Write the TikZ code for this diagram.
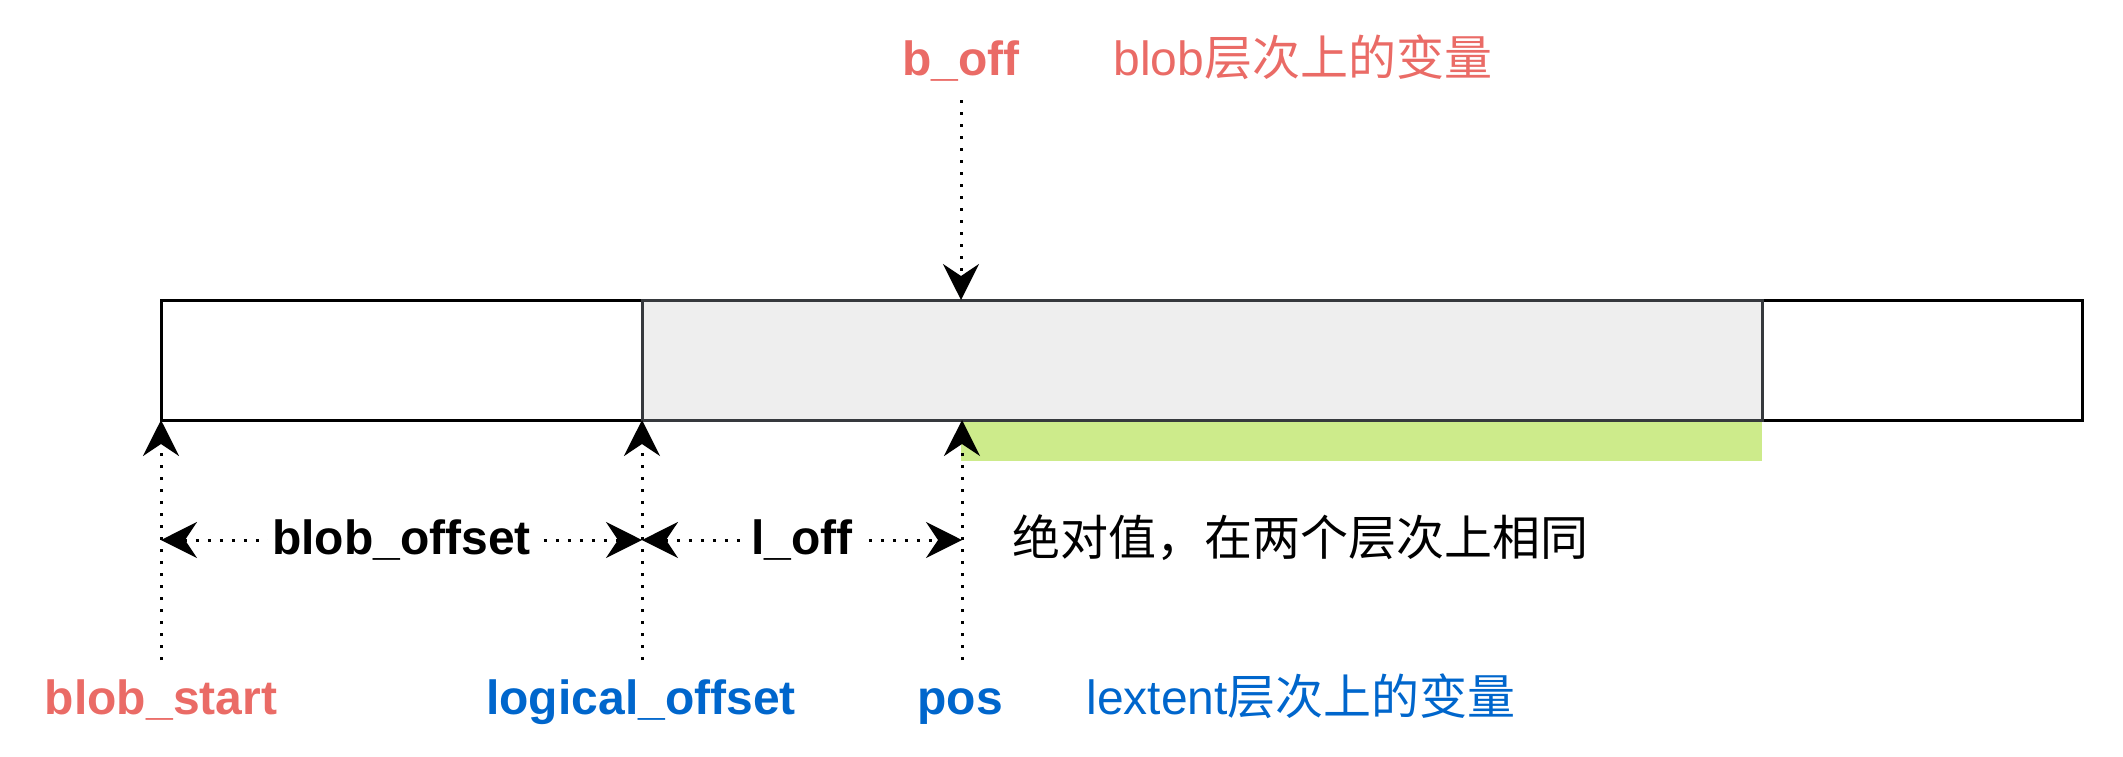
\documentclass[tikz,border=0pt]{standalone}
\usepackage{fontspec}
\setmainfont{Liberation Sans}
\newfontfamily\cjk{Noto Sans CJK SC}
\usetikzlibrary{arrows.meta}
\definecolor{varred}{HTML}{EA6B66}
\definecolor{varblue}{HTML}{0066CC}
\definecolor{segfill}{HTML}{EEEEEE}
\definecolor{segdraw}{HTML}{36393D}
\definecolor{extfill}{HTML}{CDEB8B}
\begin{document}
\begin{tikzpicture}[x=0.5pt,y=-0.5pt,
    dimline/.style={line width=1.5pt,dash pattern=on 1.5pt off 4.5pt,-{Stealth[length=18pt,width=18pt,inset=6pt]}},
    lbl/.style={inner sep=0pt,font=\fontsize{24}{28}\selectfont\bfseries},
    txt/.style={inner sep=0pt,font=\fontsize{24}{28}\selectfont}]
        \useasboundingbox (0,0) rectangle (2123,756);
        % extent under the middle segment
        \fill[extfill] (961,420) rectangle (1762,461);
        % blob segments
        \draw[line width=1.5pt] (161,300) rectangle (642,420);
        \draw[line width=1.5pt] (1762,300) rectangle (2082,420);
        \draw[line width=1.5pt,draw=segdraw,fill=segfill] (642,300) rectangle (1762,420);
        % b_off from above
        \node[lbl,varred,anchor=base] (boff) at (961,75) {b\_off};
        \node[txt,varred,anchor=base west] (blobvar) at (1113,75) {blob{\cjk 层次上的变量}};
        \coordinate (boff-from) at (961,100);
        \coordinate (boff-to) at (961,300);
        \draw[dimline] (boff-from) -- (boff-to);
        % markers below the blob
        \foreach \x/\nm in {161/bs,642/lo,962/ps} {
            \coordinate (\nm-top) at (\x,420);
            \coordinate (\nm-mid) at (\x,540);
            \coordinate (\nm-bot) at (\x,660);
            \draw[dimline] (\nm-bot) -- (\nm-top);
        }
        \draw[dimline,{Stealth[length=18pt,width=18pt,inset=6pt]}-{Stealth[length=18pt,width=18pt,inset=6pt]}] (bs-mid) -- node[lbl,fill=white,inner xsep=2pt] (blobofs) {blob\_offset} (lo-mid);
        \draw[dimline,{Stealth[length=18pt,width=18pt,inset=6pt]}-{Stealth[length=18pt,width=18pt,inset=6pt]}] (lo-mid) -- node[lbl,fill=white,inner xsep=5pt] (loff) {l\_off} (ps-mid);
        \node[txt,anchor=base west] (absval) at (1012,555) {\cjk 绝对值，在两个层次上相同};
        % names
        \node[lbl,varred,anchor=base] (blobstart) at (161,714) {blob\_start};
        \node[lbl,varblue,anchor=base] (logofs) at (641,714) {logical\_offset};
        \node[lbl,varblue,anchor=base] (pos) at (960,714) {pos};
        \node[txt,varblue,anchor=base west] (lextvar) at (1086,714) {lextent{\cjk 层次上的变量}};
      \end{tikzpicture}
\end{document}
